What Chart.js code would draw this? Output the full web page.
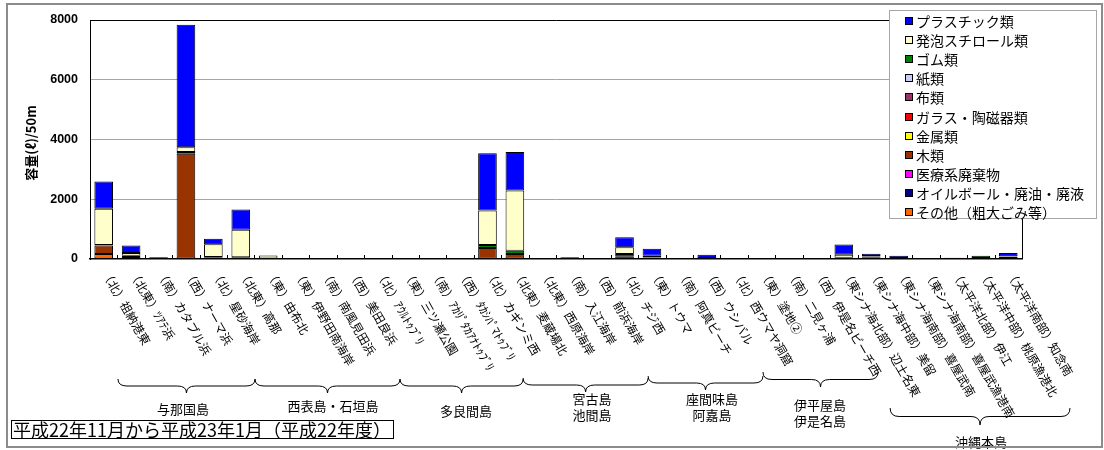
<!DOCTYPE html>
<html><head><meta charset="utf-8">
<script src="https://cdn.jsdelivr.net/npm/chart.js@4"></script>
<style>
body{margin:0;background:#fff;}
#wrap{position:relative;width:1104px;height:450px;overflow:hidden;}
#frame{position:absolute;left:6px;top:3px;width:1097px;height:445px;border:2px solid #8c8c8c;box-sizing:border-box;pointer-events:none;}
#legend{position:absolute;left:889px;top:10px;width:208px;height:209px;border:1px solid #a6a6a6;background:#fff;box-sizing:border-box;font-family:"Noto Sans CJK JP";font-size:14px;padding-top:0px;}
.item{height:19.2px;display:flex;align-items:center;white-space:nowrap;color:#000;}
.sw{width:6px;height:6px;border:1px solid #000;margin-left:15px;margin-right:3px;flex:none;}
#period{position:absolute;left:11px;top:420px;width:383px;height:19px;border:1px solid #000;box-sizing:border-box;font-family:"Noto Sans CJK JP";font-size:18px;line-height:17px;padding-left:1px;white-space:nowrap;background:#fff;}
</style>
</head><body>
<div id="wrap">
<canvas id="c" width="1104" height="450"></canvas>
<div id="legend"></div>
<div id="period"></div>
<div id="frame"></div>
</div>
<script>
// ---- data ----
const categories = [
 '（北）祖納港東','（北東）ﾂｱﾃ浜','（南）カタブル浜','（西）ナーマ浜','（北）星砂海岸','（北東）高那',
 '（東）由布北','（東）伊野田南海岸','（南）南風見田浜','（西）美田良浜','（北）ｱｳﾙﾄｩﾌﾞﾘ',
 '（東）三ツ瀬公園','（南）ｱｶﾘﾟﾀｶｱﾅﾄｩﾌﾞﾘ','（西）ﾀｶｼﾊﾟﾏﾄｩﾌﾞﾘ','（北）カギンミ西','（北東）麦蔵場北',
 '（北東）西原海岸','（南）入江海岸','（西）前浜海岸','（北）チジ西',
 '（東）トウマ','（南）阿真ビーチ','（西）ウシバル','（北）西ウマヤ洞窟',
 '（東）塗地②','（南）二見ヶ浦','（西）伊是名ビーチ西',
 '（東シナ海北部）辺土名東','（東シナ海中部）美留','（東シナ海南部）喜屋武南','（東シナ海南部）喜屋武漁港南',
 '（太平洋北部）伊江','（太平洋中部）桃原漁港北','（太平洋南部）知念南'
];
const groupNames = [['与那国島'],['西表島・石垣島'],['多良間島'],['宮古島','池間島'],['座間味島','阿嘉島'],['伊平屋島','伊是名島'],['沖縄本島']];
const periodText = '平成22年11月から平成23年1月（平成22年度）';
const yTicks = [0,2000,4000,6000,8000];
const yTitle = '容量(ℓ)/50m';

const plastic = [910,250,0,4100,185,680,0,0,0,0,0,0,0,0,1920,1295,0,0,0,340,230,0,110,0,0,0,0,345,75,70,0,0,0,110];
const happou  = [1210,90,20,160,420,915,100,0,0,0,0,0,0,0,1150,2010,0,0,0,220,60,0,0,0,0,0,0,100,20,0,0,0,0,20];
const gomu    = [20,40,25,60,30,30,0,0,15,15,0,0,0,0,100,110,0,30,20,80,30,15,20,0,0,0,0,20,20,20,0,20,70,40];
const kami    = [0,0,0,0,0,0,0,0,0,0,0,0,0,0,0,0,0,0,0,0,0,0,0,0,0,0,0,0,0,0,0,0,0,0];
const nuno    = [0,0,0,0,0,0,0,0,0,0,0,0,0,0,0,0,0,0,0,0,0,0,0,0,0,0,0,0,0,0,0,0,0,0];
const glass   = [0,0,0,0,0,0,0,0,0,0,0,0,0,0,0,0,0,0,0,0,0,0,0,0,0,0,0,0,0,0,0,0,0,0];
const kinzoku = [0,0,0,0,0,0,0,0,0,0,0,0,0,0,0,0,0,0,0,0,0,0,0,0,0,0,0,0,0,0,0,0,0,0];
const moku    = [280,70,20,3520,40,30,15,0,0,0,0,0,0,0,370,170,0,30,0,90,20,0,10,0,0,0,0,20,60,15,0,20,35,35];
const iryou   = [0,0,0,0,0,0,0,0,0,0,0,0,0,0,0,0,0,0,0,0,0,0,0,0,0,0,0,0,0,0,0,0,0,0];
const oil     = [0,0,0,0,0,0,0,0,0,0,0,0,0,0,0,0,0,0,0,0,0,0,0,0,0,0,0,0,0,0,0,0,0,0];
const sonota  = [170,0,0,0,0,0,0,0,0,0,0,0,0,0,0,0,0,0,0,0,0,0,0,0,0,0,0,0,0,0,0,0,0,0];

// legend order (top to bottom)
const seriesNames = ['プラスチック類','発泡スチロール類','ゴム類','紙類','布類','ガラス・陶磁器類','金属類','木類','医療系廃棄物','オイルボール・廃油・廃液','その他（粗大ごみ等）'];
const seriesData  = [plastic,happou,gomu,kami,nuno,glass,kinzoku,moku,iryou,oil,sonota];
// styles
const seriesColors = ['#0000FF','#FFFFCC','#008000','#CCCCFF','#993366','#FF0000','#FFFF00','#993300','#FF00FF','#000080','#FF6600'];

// ---- layout constants (decoration) ----
const braceLayout = [ // [startUnit, endUnit, topY, height, labelX, labelY]
 [1.02, 6.02, 379, 14, 183, 409],
 [6.02, 11.31, 379, 14, 333, 406],
 [11.31, 15.80, 379, 14, 466, 411],
 [15.80, 20.36, 378, 14, 592, 399],
 [20.36, 24.55, 376, 14, 712, 399],
 [24.55, 28.75, 372, 15, 820, 405],
 [29.19, 35.75, 408, 17, 981, 442]
];

// legend
const lg = document.getElementById('legend');
seriesNames.forEach((n,i)=>{
  const d=document.createElement('div'); d.className='item';
  const s=document.createElement('span'); s.className='sw'; s.style.background=seriesColors[i];
  const t=document.createElement('span'); t.textContent=n;
  d.appendChild(s); d.appendChild(t); lg.appendChild(d);
});
document.getElementById('period').textContent = periodText;

const datasets = seriesNames.map((n,i)=>({
  label:n,
  data: seriesData[i].map(v=>v===0?null:v),
  backgroundColor: seriesColors[i],
  borderColor:'#000', borderWidth:1, borderSkipped:false,
  barPercentage:0.68, categoryPercentage:1.0
})).reverse();

const deco = {
  id:'deco',
  beforeDatasetsDraw(chart){
    const {ctx, chartArea:a, scales:{x}} = chart;
    ctx.save(); ctx.strokeStyle='#000'; ctx.lineWidth=1;
    for(let k=0;k<=categories.length;k++){
      const px=Math.round(x.getPixelForValue(k-0.5))+0.5;
      ctx.beginPath(); ctx.moveTo(px,a.bottom); ctx.lineTo(px,a.bottom-4); ctx.stroke();
    }
    ctx.restore();
  },
  afterDraw(chart){
    const {ctx, chartArea:a, scales:{x}} = chart;
    ctx.save();
    // plot box top/right
    ctx.strokeStyle='#000'; ctx.lineWidth=1;
    ctx.beginPath();
    ctx.moveTo(a.left, Math.round(a.top)+0.5); ctx.lineTo(Math.round(a.right)+0.5, Math.round(a.top)+0.5);
    ctx.lineTo(Math.round(a.right)+0.5, a.bottom);
    ctx.stroke();
    // rotated category labels
    ctx.fillStyle='#000';
    ctx.font='12px "Noto Sans CJK JP"';
    ctx.textAlign='left'; ctx.textBaseline='middle';
    categories.forEach((c,i)=>{
      const px=x.getPixelForValue(i)+1.5;
      ctx.save(); ctx.translate(px, a.bottom+12); ctx.rotate(Math.PI/3);
      ctx.fillText(c,0,0); ctx.restore();
    });
    // braces
    ctx.lineWidth=1;
    braceLayout.forEach((b,gi)=>{
      const x1=x.getPixelForValue(b[0]-0.5), x2=x.getPixelForValue(b[1]-0.5);
      const y=b[2], h=b[3], ym=y+h*0.5, mid=(x1+x2)/2, r=9;
      ctx.beginPath();
      ctx.moveTo(x1,y);
      ctx.quadraticCurveTo(x1,ym,x1+r,ym);
      ctx.lineTo(mid-r,ym);
      ctx.quadraticCurveTo(mid,ym,mid,y+h);
      ctx.quadraticCurveTo(mid,ym,mid+r,ym);
      ctx.lineTo(x2-r,ym);
      ctx.quadraticCurveTo(x2,ym,x2,y);
      ctx.stroke();
      ctx.font='13px "Noto Sans CJK JP"';
      ctx.textAlign='center'; ctx.textBaseline='middle';
      groupNames[gi].forEach((t,li)=>{ ctx.fillText(t, b[4], b[5]+li*16.5); });
    });
    // y title
    ctx.save();
    ctx.translate(31,143); ctx.rotate(-Math.PI/2);
    ctx.font='bold 13px "Noto Sans CJK JP"'; ctx.textAlign='center'; ctx.textBaseline='middle';
    ctx.fillText(yTitle,0,0);
    ctx.restore();
    ctx.restore();
  }
};

new Chart(document.getElementById('c'), {
  type:'bar',
  data:{labels:categories, datasets},
  options:{
    responsive:false, animation:false,
    layout:{padding:{left:0,top:20,right:82,bottom:0}},
    plugins:{legend:{display:false}, tooltip:{enabled:false}},
    scales:{
      x:{stacked:true, grid:{display:false}, ticks:{display:false},
         border:{display:true,color:'#000',width:1.5},
         afterFit(s){ s.height=191; }},
      y:{stacked:true, min:0, max:8000,
         afterBuildTicks(s){ s.ticks = yTicks.map(v=>({value:v})); },
         ticks:{color:'#000', padding:12, font:{family:'Liberation Sans', size:12.5, weight:'bold'}, callback:(v)=>String(v)},
         grid:{drawTicks:false, color:(c)=> (c.tick && (c.tick.value===0||c.tick.value===8000))?'rgba(0,0,0,0)':'#a6a6a6'},
         border:{display:true,color:'#000',width:1},
         afterFit(s){ s.width=90; }}
    }
  },
  plugins:[deco]
});
</script>
</body></html>
